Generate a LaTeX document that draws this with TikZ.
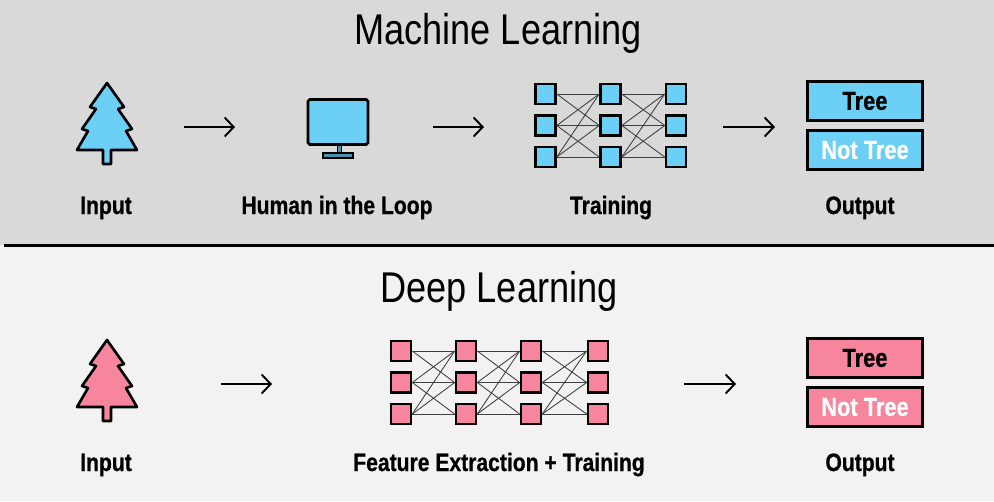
\documentclass[tikz,border=0pt]{standalone}
\usepackage{fontspec}
\setmainfont[FakeStretch=0.84, BoldFeatures={FakeBold=0.6}]{Liberation Sans}
\usetikzlibrary{arrows.meta}
\definecolor{mlblue}{HTML}{6BCFF6}
\definecolor{dlpink}{HTML}{F6859D}
\definecolor{mlgrey}{HTML}{D9D9D9}
\definecolor{dlgrey}{HTML}{F2F2F2}
\tikzset{
  titletext/.style={anchor=base, font=\fontsize{24.5}{27}\selectfont, text=black},
  labeltext/.style={anchor=base, font=\fontsize{14.3}{16}\selectfont\bfseries, text=black},
  flowarrow/.style={-{Straight Barb[length=0.18cm, width=0.38cm]}, line width=1.1pt},
  netbox/.style={draw=black, line width=1.5pt, minimum size=0.4cm, inner sep=0pt},
  netline/.style={draw=black!75, line width=0.5pt},
  outbox/.style={draw=black, line width=1.5pt, minimum width=2.31cm, minimum height=0.78cm, inner sep=0pt, font=\fontsize{14.8}{16}\selectfont\bfseries},
  pics/tree/.style={code={
    \filldraw[fill=#1, draw=black, line width=1.5pt, line join=round]
      (0,0) -- (17,24) -- (11,26) -- (25,46) -- (19,48) -- (30,67) -- (4,67) -- (4,81) -- (-4,81) -- (-4,67)
      -- (-30,67) -- (-19,48) -- (-25,46) -- (-11,26) -- (-17,24) -- cycle;
  }}
}
\begin{document}
\begin{tikzpicture}[x=0.02cm, y=-0.02cm]
\useasboundingbox (0,0) rectangle (994,501);
% Backgrounds
\fill[mlgrey] (0,0) rectangle (994,245);
\fill[dlgrey] (0,245) rectangle (994,501);
\draw[black, line width=1.5pt] (4,245.5) -- (994,245.5);

% Machine Learning Section
\node[titletext] (mltitle) at (498,44) {Machine Learning};
\pic at (107,83) {tree=mlblue};
\node[labeltext] (mlinput) at (106,214) {Input};
\coordinate (mla1s) at (184,127);
\coordinate (mla1e) at (235,127);
\draw[flowarrow] (mla1s) -- (mla1e);

% Monitor
\filldraw[fill=mlblue!70!black, draw=black, line width=1pt] (337.5,145) rectangle (341.5,153);
\filldraw[fill=mlblue!70!black, draw=black, line width=1pt] (323,153) rectangle (353,158);
\filldraw[fill=mlblue, draw=black, line width=1.5pt, rounded corners=1pt] (308,99.5) rectangle (368,144.5);
\node[labeltext] (mlhuman) at (337,214) {Human in the Loop};
\coordinate (mla2s) at (433,127);
\coordinate (mla2e) at (484,127);
\draw[flowarrow] (mla2s) -- (mla2e);

% Training Network
\foreach \col/\xpos in {1/545.5, 2/610.5, 3/676}
  \foreach \row/\ypos in {1/94, 2/125.5, 3/157}
    \node[netbox, fill=mlblue] (ml-\col-\row) at (\xpos,\ypos) {};
\foreach \cola/\colb in {1/2, 2/3}
  \foreach \from/\to in {1/1, 1/2, 2/1, 2/2, 2/3, 3/1, 3/2, 3/3}
    \draw[netline] (ml-\cola-\from.east) -- (ml-\colb-\to.west);
\node[labeltext] (mltraining) at (611,214) {Training};
\coordinate (mla3s) at (723,127);
\coordinate (mla3e) at (775,127);
\draw[flowarrow] (mla3s) -- (mla3e);

% Machine Learning Output
\node[outbox, fill=mlblue] (mltree) at (865,101) {Tree};
\node[outbox, fill=mlblue, text=white] (mlnot) at (865,150) {Not Tree};
\node[labeltext] (mloutput) at (860,214) {Output};

% Deep Learning Section
\node[titletext] (dltitle) at (499,302) {Deep Learning};
\pic at (107,340) {tree=dlpink};
\node[labeltext] (dlinput) at (106,471) {Input};
\coordinate (dla1s) at (221,384);
\coordinate (dla1e) at (272,384);
\draw[flowarrow] (dla1s) -- (dla1e);

% Feature Network
\foreach \col/\xpos in {1/401, 2/466, 3/531, 4/598}
  \foreach \row/\ypos in {1/351, 2/382.5, 3/414}
    \node[netbox, fill=dlpink] (dl-\col-\row) at (\xpos,\ypos) {};
\foreach \cola/\colb in {1/2, 2/3, 3/4}
  \foreach \from/\to in {1/1, 1/2, 2/1, 2/2, 2/3, 3/1, 3/2, 3/3}
    \draw[netline] (dl-\cola-\from.east) -- (dl-\colb-\to.west);
\node[labeltext] (dlfeature) at (499,471) {Feature Extraction + Training};
\coordinate (dla2s) at (684,384);
\coordinate (dla2e) at (736,384);
\draw[flowarrow] (dla2s) -- (dla2e);

% Deep Learning Output
\node[outbox, fill=dlpink] (dltree) at (865,358) {Tree};
\node[outbox, fill=dlpink, text=white] (dlnot) at (865,407) {Not Tree};
\node[labeltext] (dloutput) at (860,471) {Output};
\end{tikzpicture}
\end{document}
